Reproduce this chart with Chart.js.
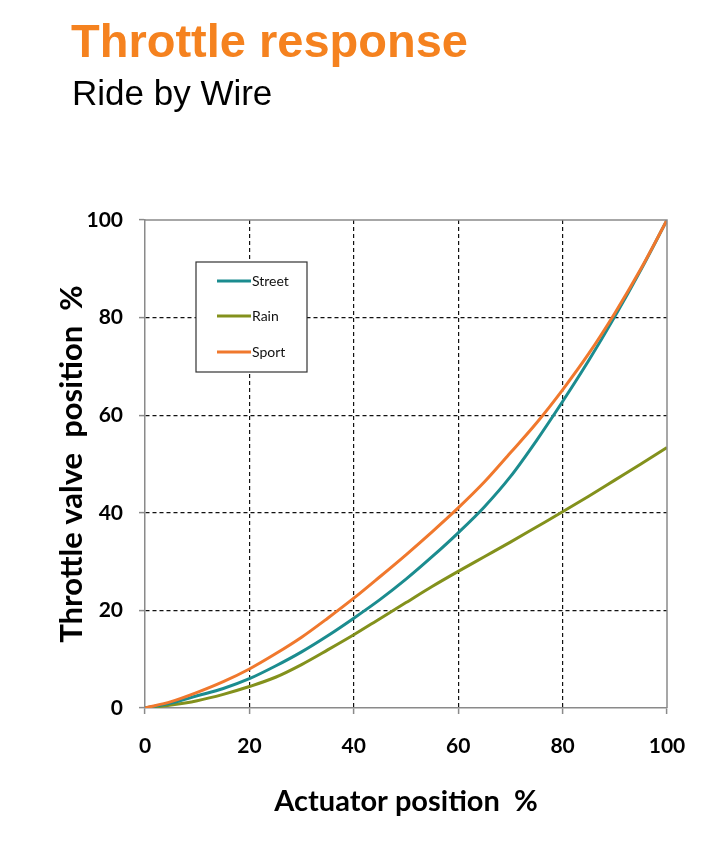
<!DOCTYPE html>
<html>
<head>
<meta charset="utf-8">
<script src="https://cdn.jsdelivr.net/npm/chart.js@4.4.0/dist/chart.umd.min.js"></script>
<style>
  html, body { margin: 0; padding: 0; background: #fff; width: 720px; height: 845px; overflow: hidden; }
  #title { position: absolute; left: 71px; top: 17px; font: bold 47px "Liberation Sans", Arial, sans-serif; line-height: 1; color: #f5821f; white-space: nowrap; }
  #subtitle { position: absolute; left: 72px; top: 75px; font: 35px "Liberation Sans", Arial, sans-serif; line-height: 1; color: #000; white-space: nowrap; }
  #wrap { position: absolute; left: 0; top: 0; width: 720px; height: 845px; }
</style>
</head>
<body>
<div id="wrap"><canvas id="c" width="720" height="845"></canvas></div>
<div id="title">Throttle response</div>
<div id="subtitle">Ride by Wire</div>
<script>
const seriesNames = ["Street", "Rain", "Sport"];
const actuatorX = [0,5,10,15,20,25,30,35,40,45,50,55,60,65,70,75,80,85,90,95,100];
const streetY = [0,1.0,2.5,4.0,6.0,8.6,11.5,14.8,18.4,22.2,26.4,31.0,35.9,41.2,47.4,54.8,62.8,71.2,80.2,89.8,100];
const rainY   = [0,0.6,1.5,2.8,4.4,6.3,8.9,11.9,15.0,18.3,21.6,24.9,28.0,31.0,34.0,37.1,40.2,43.4,46.7,50.0,53.4];
const sportY  = [0,1.3,3.2,5.4,8.0,11.1,14.5,18.4,22.5,26.9,31.4,36.1,41.0,46.3,52.3,58.4,65.2,72.6,80.9,90.0,100];
const xTicks = [0,20,40,60,80,100];
const yTicks = [0,20,40,60,80,100];

const toPts = (xs, ys) => xs.map((x, i) => ({x: x, y: ys[i]}));

const frameAndLegend = {
  id: 'frameAndLegend',
  afterDatasetsDraw(chart) {
    const ctx = chart.ctx;
    const a = chart.chartArea;
    ctx.save();
    ctx.strokeStyle = '#8a8a8a';
    ctx.lineWidth = 1.5;
    ctx.beginPath();
    ctx.moveTo(a.left, a.top);
    ctx.lineTo(a.right, a.top);
    ctx.lineTo(a.right, a.bottom);
    ctx.stroke();
    // legend box
    const bx = 196, by = 262, bw = 111, bh = 110;
    ctx.fillStyle = '#fff';
    ctx.fillRect(bx, by, bw, bh);
    ctx.strokeStyle = '#333';
    ctx.lineWidth = 1.2;
    ctx.strokeRect(bx, by, bw, bh);
    const rows = [281, 316, 352];
    chart.data.datasets.forEach((ds, i) => {
      ctx.strokeStyle = ds.borderColor;
      ctx.lineWidth = 3;
      ctx.beginPath();
      ctx.moveTo(217, rows[i]);
      ctx.lineTo(251, rows[i]);
      ctx.stroke();
      ctx.fillStyle = '#111';
      ctx.font = '14px Lato, "Open Sans", sans-serif';
      ctx.textBaseline = 'middle';
      ctx.textAlign = 'left';
      ctx.fillText(ds.label, 252, rows[i]);
    });
    ctx.restore();
  }
};

const gridColor = (ctx) => (ctx.tick && (ctx.tick.value === 0 || ctx.tick.value === 100)) ? 'rgba(0,0,0,0)' : '#111';

new Chart(document.getElementById('c'), {
  type: 'line',
  data: {
    datasets: [
      { label: seriesNames[0], data: toPts(actuatorX, streetY), borderColor: '#1b8c8f', borderWidth: 3, pointRadius: 0, cubicInterpolationMode: 'monotone', order: 1 },
      { label: seriesNames[1], data: toPts(actuatorX, rainY), borderColor: '#83911c', borderWidth: 3, pointRadius: 0, cubicInterpolationMode: 'monotone', order: 2 },
      { label: seriesNames[2], data: toPts(actuatorX, sportY), borderColor: '#f0782d', borderWidth: 3, pointRadius: 0, cubicInterpolationMode: 'monotone', order: 0 }
    ]
  },
  options: {
    responsive: false,
    animation: false,
    devicePixelRatio: 1,
    layout: { padding: { top: 220, right: 53, bottom: 20, left: 0 } },
    plugins: { legend: { display: false }, tooltip: { enabled: false }, title: { display: false } },
    scales: {
      x: {
        type: 'linear', min: 0, max: 100,
        afterBuildTicks: (s) => { s.ticks = xTicks.map(v => ({value: v})); },
        afterFit: (s) => { s.height = 117; },
        grid: { color: gridColor, lineWidth: 1.2, tickColor: '#8a8a8a', tickLength: 6, tickWidth: 1.5 },
        border: { display: true, color: '#8a8a8a', width: 1.5, dash: [4, 3] },
        ticks: { color: '#000', font: { family: 'Lato', weight: 'bold', size: 21 }, padding: 20, maxRotation: 0 },
        title: { display: true, text: 'Actuator position  %', color: '#000', font: { family: 'Lato', weight: 'bold', size: 29 }, padding: { top: 0, bottom: 6 } }
      },
      y: {
        type: 'linear', min: 0, max: 100,
        afterBuildTicks: (s) => { s.ticks = yTicks.map(v => ({value: v})); },
        afterFit: (s) => { s.width = 145; },
        grid: { color: gridColor, lineWidth: 1.2, tickColor: '#8a8a8a', tickLength: 6, tickWidth: 1.5 },
        border: { display: true, color: '#8a8a8a', width: 1.5, dash: [4, 3] },
        ticks: { color: '#000', font: { family: 'Lato', weight: 'bold', size: 21 }, padding: 16 },
        title: { display: true, text: 'Throttle valve  position  %', color: '#000', font: { family: 'Lato', weight: 'bold', size: 31 }, padding: { top: 53, bottom: 0 } }
      }
    }
  },
  plugins: [frameAndLegend]
});
</script>
</body>
</html>
